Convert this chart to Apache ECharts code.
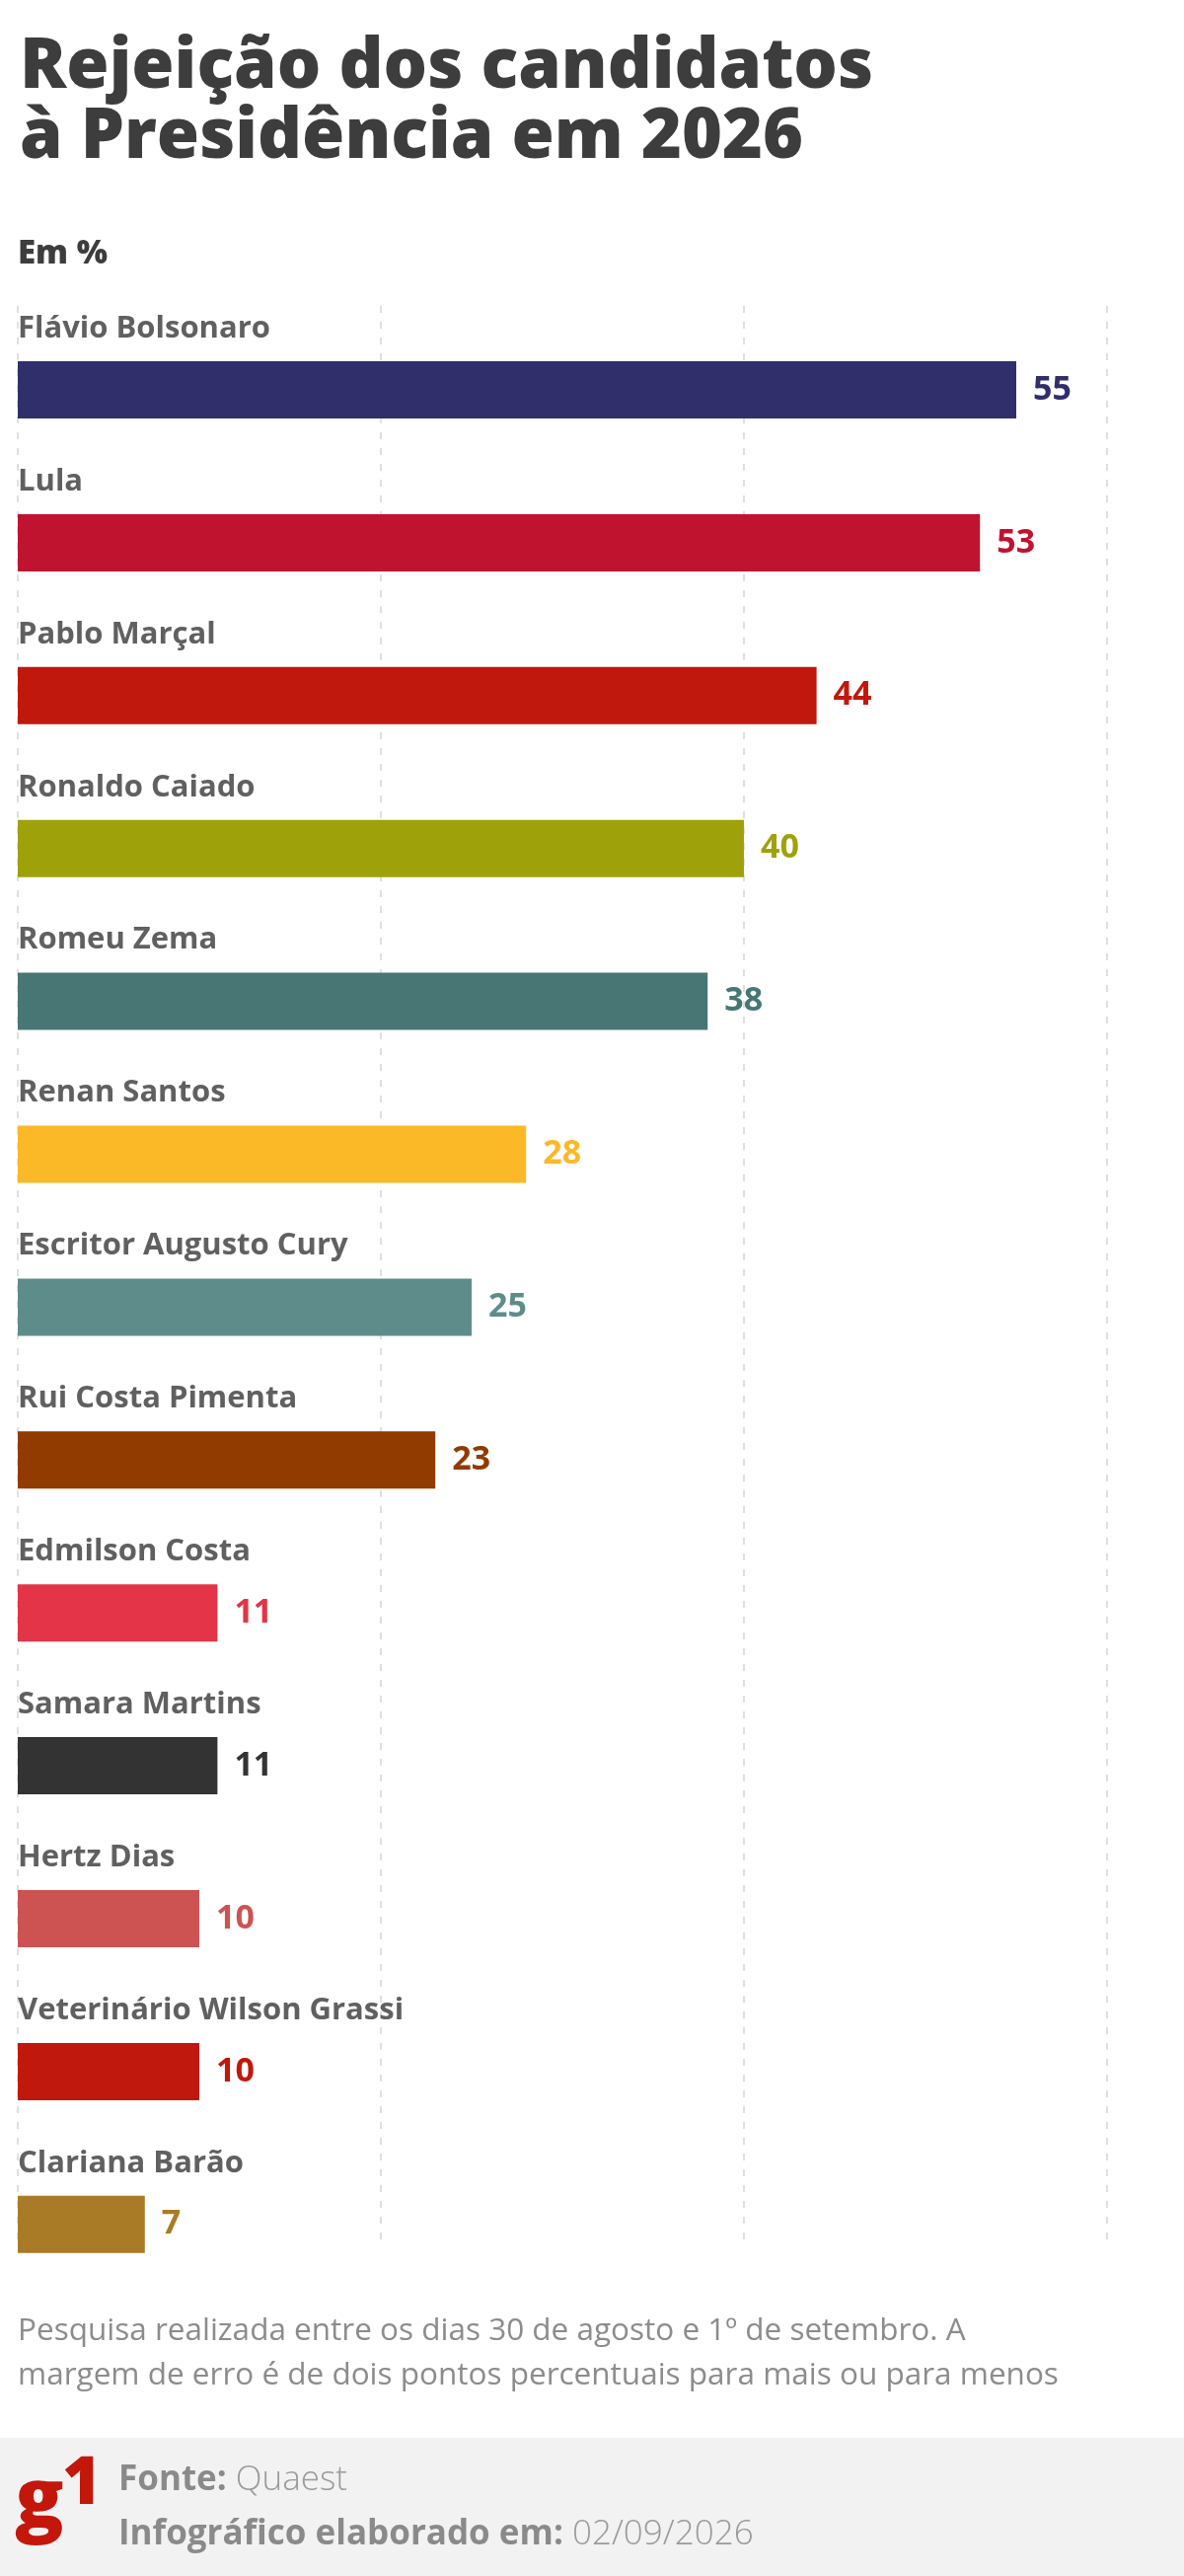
<!DOCTYPE html>
<html>
<head>
<meta charset="utf-8">
<script src="https://cdn.jsdelivr.net/npm/echarts@6/dist/echarts.min.js"></script>
<style>
  html, body { margin: 0; padding: 0; background: #ffffff; }
  #chart { width: 1200px; height: 2610px; }
</style>
</head>
<body>
<div id="chart"></div>
<script>
// ---- data ----
const candidates = [
  'Flávio Bolsonaro', 'Lula', 'Pablo Marçal', 'Ronaldo Caiado', 'Romeu Zema',
  'Renan Santos', 'Escritor Augusto Cury', 'Rui Costa Pimenta', 'Edmilson Costa',
  'Samara Martins', 'Hertz Dias', 'Veterinário Wilson Grassi', 'Clariana Barão'
];
const rejection = [55, 53, 44, 40, 38, 28, 25, 23, 11, 11, 10, 10, 7];
const barColors = [
  '#302f6b', '#c01330', '#c0180c', '#9fa10b', '#487675',
  '#fbb927', '#5e8c8b', '#913b00', '#e33448',
  '#333333', '#cd5353', '#c0180c', '#aa7b27'
];
const axisTicks = [0, 20, 40, 60];

const titleText = 'Rejeição dos candidatos\nà Presidência em 2026';
const unitText = 'Em %';
const noteText = 'Pesquisa realizada entre os dias 30 de agosto e 1º de setembro. A\nmargem de erro é de dois pontos percentuais para mais ou para menos';
const sourceLabel = 'Fonte:';
const sourceValue = 'Quaest';
const dateLabel = 'Infográfico elaborado em:';
const dateValue = '02/09/2026';
const logoText = ['g', '1'];

// ---- chart ----
const FONT = '"Open Sans", Lato, sans-serif';
const chart = echarts.init(document.getElementById('chart'), null, { renderer: 'canvas' });

const band = 154.9;
const firstCenter = 395;
const gridTop = firstCenter - band / 2;

const option = {
  backgroundColor: '#ffffff',
  animation: false,
  textStyle: { fontFamily: FONT },
  title: [
    {
      text: titleText,
      left: 20, top: 34, padding: 0,
      textStyle: { fontFamily: FONT, fontWeight: 800, fontSize: 70, lineHeight: 71, color: '#3d3d3d' }
    },
    {
      text: unitText,
      left: 18, top: 241, padding: 0,
      textStyle: { fontFamily: FONT, fontWeight: 800, fontSize: 33, lineHeight: 34, color: '#3d3d3d' }
    },
    {
      text: noteText,
      left: 18, top: 2340, padding: 0,
      textStyle: { fontFamily: FONT, fontWeight: 'normal', fontSize: 31.5, lineHeight: 45, color: '#8c8c8c' }
    }
  ],
  graphic: [
    { type: 'rect', left: 0, top: 2470, shape: { width: 1200, height: 140 }, style: { fill: '#f2f2f2' }, z: -1 },
    {
      type: 'text', left: 15, top: 2495,
      style: { text: logoText[0], fontFamily: FONT, fontWeight: 800, fontSize: 82, fill: '#c4170c' }
    },
    {
      type: 'text', left: 63, top: 2484,
      style: { text: logoText[1], fontFamily: FONT, fontWeight: 800, fontSize: 68, fill: '#c4170c' }
    },
    {
      type: 'text', left: 120, top: 2496,
      style: {
        text: '{b|' + sourceLabel + ' }{r|' + sourceValue + '}',
        rich: {
          b: { fontFamily: FONT, fontWeight: 'bold', fontSize: 35, lineHeight: 40, fill: '#8a8a8a' },
          r: { fontFamily: FONT, fontWeight: 300, fontSize: 35, lineHeight: 40, fill: '#9a9a9a' }
        }
      }
    },
    {
      type: 'text', left: 120, top: 2551,
      style: {
        text: '{b|' + dateLabel + ' }{r|' + dateValue + '}',
        rich: {
          b: { fontFamily: FONT, fontWeight: 'bold', fontSize: 35, lineHeight: 40, fill: '#8a8a8a' },
          r: { fontFamily: FONT, fontWeight: 300, fontSize: 35, lineHeight: 40, fill: '#9a9a9a' }
        }
      }
    }
  ],
  grid: [
    { left: 18, right: 78, top: gridTop, height: band * candidates.length, containLabel: false },
    { left: 18, right: 78, top: 310, height: 1967, containLabel: false }
  ],
  xAxis: [
    {
      gridIndex: 0, type: 'value', min: axisTicks[0], max: axisTicks[axisTicks.length - 1], interval: 20,
      show: false
    },
    {
      gridIndex: 1, type: 'value', min: axisTicks[0], max: axisTicks[axisTicks.length - 1], interval: 20,
      axisLine: { show: false }, axisTick: { show: false }, axisLabel: { show: false },
      splitLine: { show: true, lineStyle: { color: '#d6d6d6', width: 1.5, type: [7, 9] } }
    }
  ],
  yAxis: [
    {
      gridIndex: 0, type: 'category', data: candidates, inverse: true,
      show: false
    },
    {
      gridIndex: 1, type: 'value', min: 0, max: 1, show: false
    }
  ],
  series: [
    {
      type: 'scatter', xAxisIndex: 1, yAxisIndex: 1, data: [], silent: true
    },
    {
      type: 'bar', xAxisIndex: 0, yAxisIndex: 0,
      barWidth: 58,
      z: 3,
      data: rejection.map((v, i) => ({
        value: v,
        itemStyle: { color: barColors[i] },
        label: { color: barColors[i] }
      })),
      label: {
        show: true, position: 'right', distance: 17,
        fontFamily: FONT, fontWeight: 'bold', fontSize: 34
      }
    },
    {
      type: 'bar', xAxisIndex: 0, yAxisIndex: 0,
      barWidth: 58, barGap: '-100%',
      silent: true, z: 4,
      data: rejection,
      itemStyle: { color: 'rgba(0,0,0,0)' },
      label: {
        show: true, position: [0, -33], align: 'left', verticalAlign: 'middle',
        formatter: '{b}',
        fontFamily: FONT, fontWeight: 'bold', fontSize: 31, color: '#606060'
      }
    }
  ]
};

chart.setOption(option);
</script>
</body>
</html>
